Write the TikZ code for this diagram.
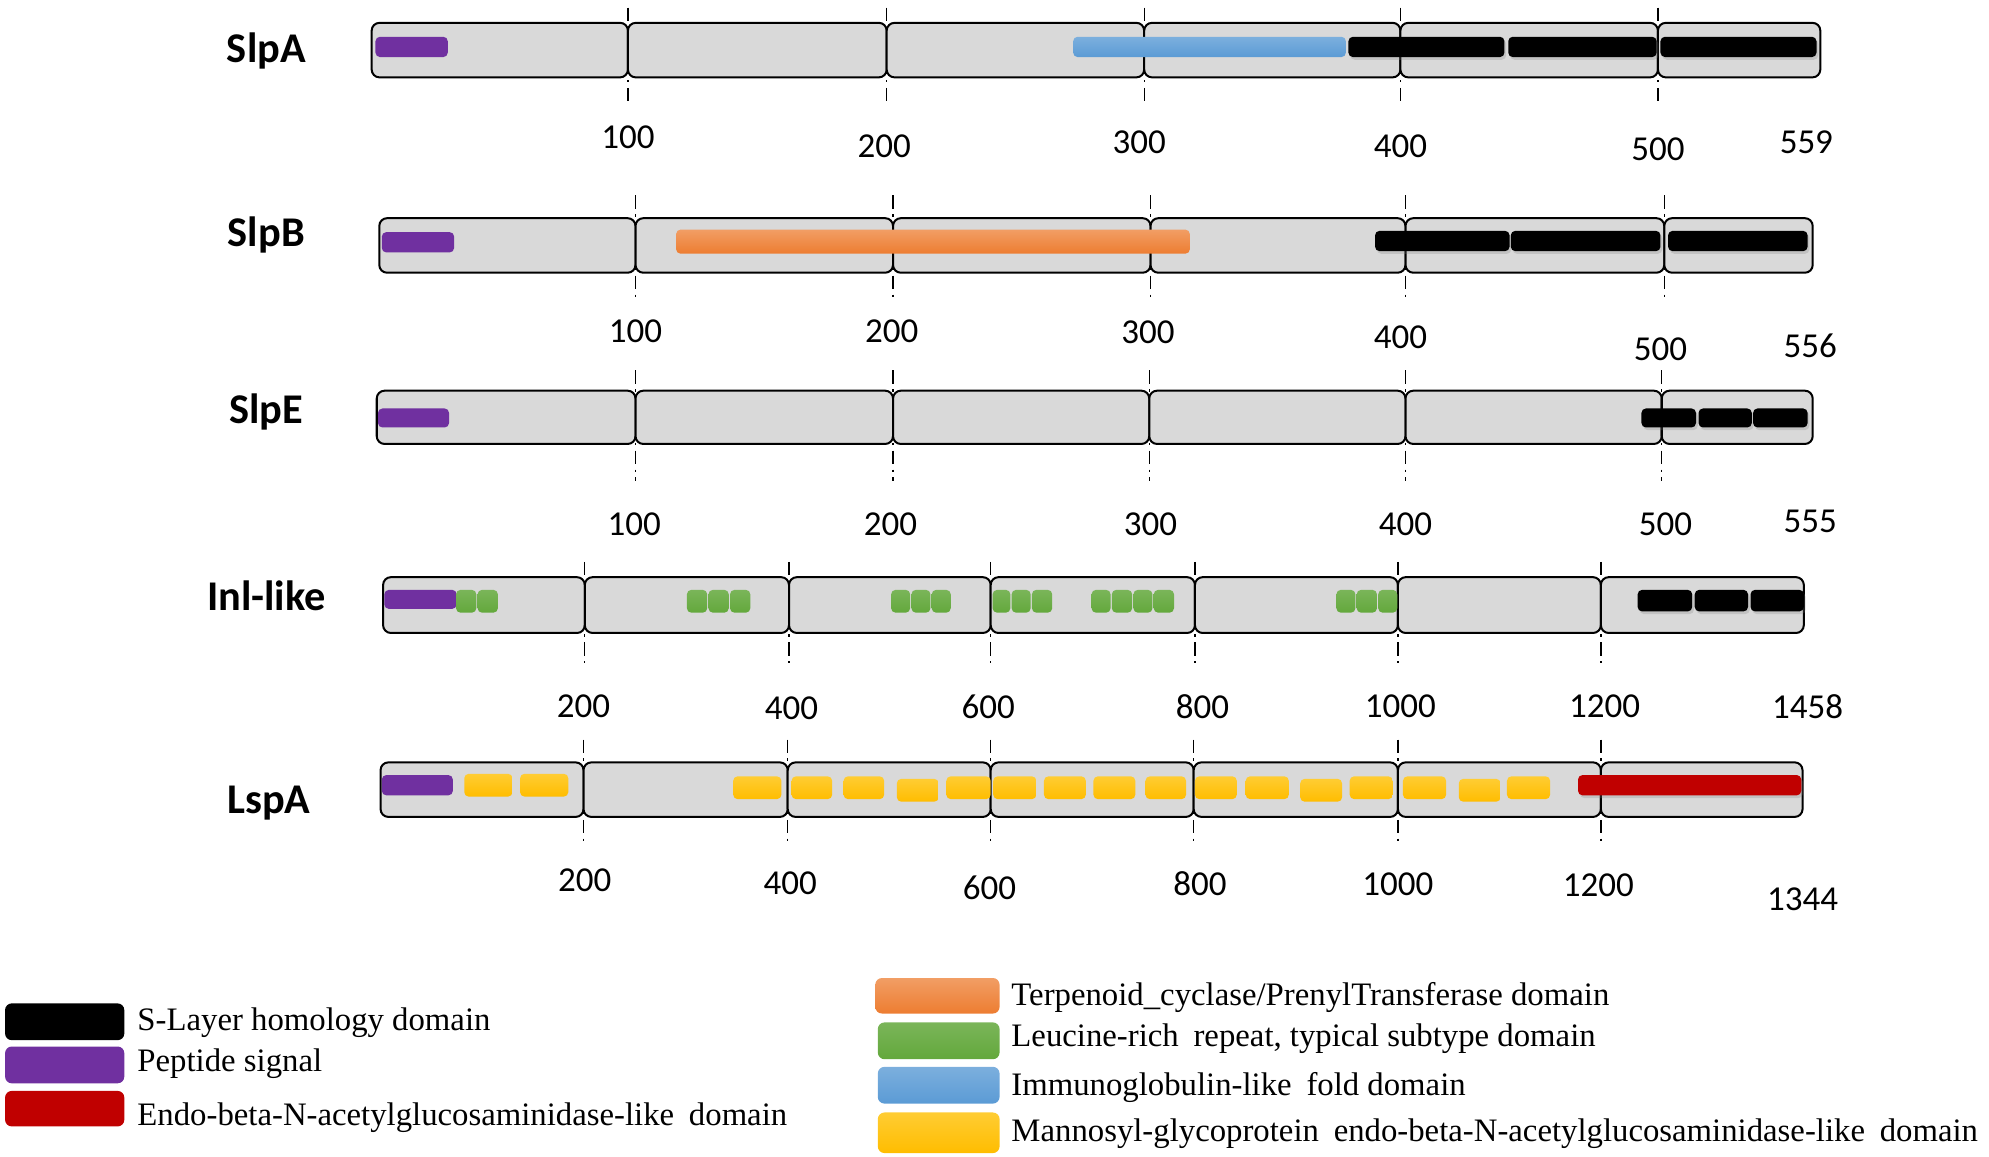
\documentclass[tikz,border=0pt]{standalone}
\usepackage{fontspec}
\setmainfont{Liberation Serif}
\newfontfamily\calibrifont{Carlito}
\usepackage{tikz}
\usetikzlibrary{shadows}

\definecolor{backbone}{RGB}{217,217,217}
\definecolor{peptide}{RGB}{112,48,160}
\definecolor{endo}{RGB}{192,0,0}
\definecolor{terpen}{RGB}{237,125,49}
\definecolor{leucine}{RGB}{99,168,60}
\definecolor{immuno}{RGB}{91,155,213}
\definecolor{mannosyl}{RGB}{255,192,0}

\begin{document}
\begin{tikzpicture}[x=0.02cm, y=-0.02cm,
    seg/.style={draw=black, fill=backbone, line width=0.9pt, rounded corners=3.5pt},
    tick/.style={line width=0.6pt, dash pattern=on 6pt off 2.5pt on 1pt off 2.5pt},
    dom/.style={rounded corners=2pt},
    slh/.style={dom, fill=black, drop shadow={opacity=0.25, shadow xshift=0.8pt, shadow yshift=-1.2pt}},
    endodom/.style={dom, fill=endo, drop shadow={opacity=0.25, shadow xshift=0.8pt, shadow yshift=-1.2pt}},
    pepdom/.style={dom, fill=peptide},
    terdom/.style={dom, top color=terpen!75!white, bottom color=terpen},
    lrrdom/.style={dom, top color=leucine!85!white, bottom color=leucine},
    igdom/.style={dom, top color=immuno!80!white, bottom color=immuno},
    mandom/.style={dom, top color=mannosyl!80!white, bottom color=mannosyl!95!orange},
    pname/.style={font=\calibrifont\bfseries\fontsize{19}{21}\selectfont},
    pnum/.style={font=\calibrifont\fontsize{15.7}{18}\selectfont},
    legbox/.style={rounded corners=3pt},
    legtext/.style={anchor=base west, inner sep=0pt, font=\fontsize{14.7}{17}\selectfont}]
    \useasboundingbox (0,0) rectangle (1568,912);

    % SlpA
    \foreach \x in {495,699,902,1104,1307}
        \draw[tick] (\x,6) -- (\x,82);
    \foreach \a/\b in {293/495,495/699,699/902,902/1104,1104/1307,1307/1435}
        \draw[seg] (\a,18) rectangle (\b,61);
    \fill[pepdom] (296,29) rectangle (353,45);
    \shade[igdom] (846,29) rectangle (1061,45);
    \foreach \a/\b in {1063/1186,1189/1306,1309/1432}
        \fill[slh] (\a,29) rectangle (\b,45);
    \node[pname] (slpa) at (210,40) {SlpA};
    \foreach \x/\y/\t in {495/108/100,697/115/200,898/112/300,1104/115/400,1307/118/500,1424/112/559}
        \node[pnum] (slpa\t) at (\x,\y) {\t};

    % SlpB
    \foreach \x in {501,704,907,1108,1312}
        \draw[tick] (\x,154) -- (\x,237);
    \foreach \a/\b in {299/501,501/704,704/907,907/1108,1108/1312,1312/1429}
        \draw[seg] (\a,172) rectangle (\b,215);
    \fill[pepdom] (301,183) rectangle (358,199);
    \shade[terdom] (533,181) rectangle (938,200);
    \foreach \a/\b in {1084/1190,1191/1309,1315/1425}
        \fill[slh] (\a,182) rectangle (\b,198);
    \node[pname] (slpb) at (210,185) {SlpB};
    \foreach \x/\y/\t in {501/261/100,703/261/200,905/262/300,1104/266/400,1309/275/500,1427/273/556}
        \node[pnum] (slpb\t) at (\x,\y) {\t};

    % SlpE
    \foreach \x in {501,704,906,1108,1310}
        \draw[tick] (\x,292) -- (\x,379);
    \foreach \a/\b in {297/501,501/704,704/906,906/1108,1108/1310,1310/1429}
        \draw[seg] (\a,308) rectangle (\b,350);
    \fill[pepdom] (298,322) rectangle (354,337);
    \foreach \a/\b in {1294/1337,1339/1381,1382/1425}
        \fill[slh] (\a,322) rectangle (\b,337);
    \node[pname] (slpe) at (210,325) {SlpE};
    \foreach \x/\y/\t in {500/413/100,702/413/200,907/413/300,1108/413/400,1313/413/500,1427/411/555}
        \node[pnum] (slpe\t) at (\x,\y) {\t};

    % Inl-like
    \foreach \x in {461,622,781,942,1102,1262}
        \draw[tick] (\x,443) -- (\x,523);
    \foreach \a/\b in {302/461,461/622,622/781,781/942,942/1102,1102/1262,1262/1422}
        \draw[seg] (\a,455) rectangle (\b,499);
    \fill[pepdom] (303,465) rectangle (360,480);
    \foreach \a/\b in {359/376,376/393,541/558,558/575,575/592,702/718,718/734,734/750,
                       782/797,797/813,813/830,860/876,876/893,893/909,909/926,
                       1053/1069,1069/1086,1086/1102}
        \shade[lrrdom] ({\a+0.5},465) rectangle ({\b-0.5},483);
    \foreach \a/\b in {1291/1334,1336/1378,1380/1422}
        \fill[slh] (\a,465) rectangle (\b,482);
    \node[pname] (inl) at (210,470) {Inl-like};
    \foreach \x/\y/\t in {460/557/200,624/558/400,779/557/600,948/557/800,1104/557/1000,1265/557/1200,1425/557/1458}
        \node[pnum] (inl\t) at (\x,\y) {\t};

    % LspA
    \foreach \x in {460,621,781,941,1102,1262}
        \draw[tick] (\x,583) -- (\x,665);
    \foreach \a/\b in {300/460,460/621,621/781,781/941,941/1102,1102/1262,1262/1421}
        \draw[seg] (\a,601) rectangle (\b,644);
    \fill[pepdom] (301,611) rectangle (357,627);
    \foreach \a/\b/\o in {366/404/0,410/448/0,578/616/2,624/656/2,665/697/2,707/740/4,
                          746/781/2,783/817/2,823/856/2,862/895/2,903/935/2,942/975/2,
                          982/1016/2,1025/1058/4,1064/1098/2,1106/1140/2,1150/1183/4,1188/1222/2}
        \shade[mandom] (\a,{610+\o}) rectangle (\b,{628+\o});
    \fill[endodom] (1244,611) rectangle (1420,627);
    \node[pname] (lspa) at (212,633) {LspA};
    \foreach \x/\y/\t in {461/694/200,623/696/400,780/700/600,946/697/800,1102/697/1000,1260/698/1200,1421/709/1344}
        \node[pnum] (lspa\t) at (\x,\y) {\t};

    % legend
    \fill[legbox, black] (4,791) rectangle (98,820);
    \fill[legbox, peptide] (4,825) rectangle (98,854);
    \fill[legbox, endo] (4,860) rectangle (98,888);
    \node[legtext] (legslh) at (108,812) {S-Layer homology domain};
    \node[legtext] (legpep) at (108,845) {Peptide signal};
    \node[legtext] (legendo) at (108,887) {Endo-beta-N-acetylglucosaminidase-like\hspace{0.2em} domain};
    \shade[legbox, top color=terpen!75!white, bottom color=terpen] (690,771) rectangle (788,799);
    \shade[legbox, top color=leucine!85!white, bottom color=leucine] (692,806) rectangle (788,835);
    \shade[legbox, top color=immuno!80!white, bottom color=immuno] (692,841) rectangle (788,870);
    \shade[legbox, top color=mannosyl!80!white, bottom color=mannosyl!95!orange] (692,877) rectangle (788,909);
    \node[legtext] (legter) at (797,793) {Terpenoid\_cyclase/PrenylTransferase domain};
    \node[legtext] (leglrr) at (797,825) {Leucine-rich\hspace{0.2em} repeat, typical subtype domain};
    \node[legtext] (legig) at (797,864) {Immunoglobulin-like\hspace{0.2em} fold domain};
    \node[legtext] (legman) at (797,900) {Mannosyl-glycoprotein\hspace{0.2em} endo-beta-N-acetylglucosaminidase-like\hspace{0.2em} domain};
\end{tikzpicture}
\end{document}
